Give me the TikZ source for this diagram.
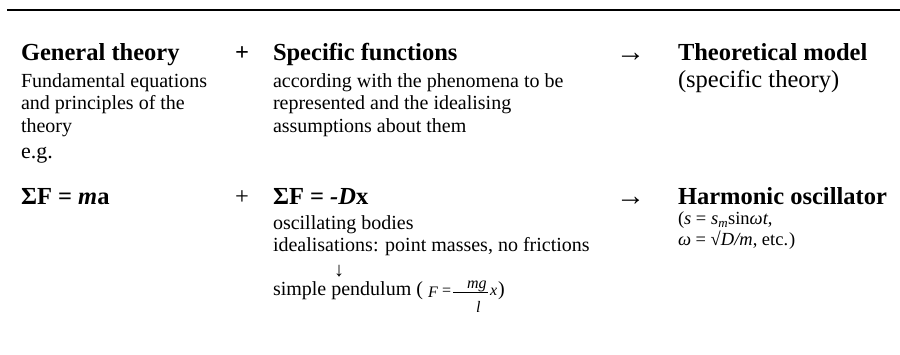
\documentclass[tikz,border=0pt]{standalone}
\usepackage{fontspec}
\setmainfont{Liberation Serif}
\begin{document}
\begin{tikzpicture}[x=1pt,y=-1pt,
  txt/.style={anchor=base west, inner sep=0pt, outer sep=0pt},
  hd/.style={txt, font=\fontsize{24.5}{28}\selectfont\bfseries},
  hdr/.style={txt, font=\fontsize{24.5}{28}\selectfont},
  arr/.style={txt, font=\fontsize{29}{32}\selectfont},
  bd/.style={txt, font=\fontsize{20}{24}\selectfont},
  eg/.style={txt, font=\fontsize{22}{26}\selectfont},
  sm/.style={txt, font=\fontsize{18.5}{21}\selectfont},
  fm/.style={txt, font=\fontsize{16}{18}\selectfont\itshape},
  fmr/.style={txt, font=\fontsize{16}{18}\selectfont},
  rule/.style={line width=2pt},
  fbar/.style={line width=0.8pt}]
\useasboundingbox (0,0) rectangle (900,355);
\coordinate (rl) at (7,10);
\coordinate (rr) at (900,10);
\draw[rule] (rl) -- (rr);
% row 1
\node[hd] (gt) at (21,61) {General theory};
\node[hd] (p1) at (235,61) {+};
\node[hd] (sf) at (273,61) {Specific functions};
\node[arr] (a1) at (616,62) {→};
\node[hd] (tm) at (678,61) {Theoretical model};
\node[hdr] (st) at (678,88) {(specific theory)};
\node[bd] (g1) at (21,88) {Fundamental equations};
\node[bd] (g2) at (21,110) {and principles of the};
\node[bd] (g3) at (21,133) {theory};
\node[eg] (g4) at (21,159) {e.g.};
\node[bd] (f1) at (273,88) {according with the phenomena to be};
\node[bd] (f2) at (273,110) {represented and the idealising};
\node[bd] (f3) at (273,133) {assumptions about them};
% row 2
\node[hd] (ma) at (21,205) {ΣF = \textit{m}a};
\node[hdr] (p2) at (235,205) {+};
\node[hd] (dx) at (273,205) {ΣF = \textit{-D}x};
\node[arr] (a2) at (616,206) {→};
\node[hd] (ho) at (678,205) {Harmonic oscillator};
\node[sm] (s1) at (678,225) {(\textit{s} = \textit{s}\textsubscript{\textit{m}}sin\textit{ωt},};
\node[sm] (s2) at (678,246) {\textit{ω} = √\textit{D/m}, etc.\kern1pt)};
\node[bd] (ob) at (273,230) {oscillating bodies};
\node[bd] (id) at (273,252) {idealisations: point masses, no frictions};
\node[bd, anchor=center] (da) at (339,271) {↓};
\node[bd] (sp) at (273,296) {simple pendulum (};
\node[fm] (fF) at (428,298) {F};
\node[fmr] (fe) at (442,296) {=};
\coordinate (b1) at (453,292);
\coordinate (b2) at (488,292);
\draw[fbar] (b1) -- (b2);
\node[fm] (mg) at (467,289) {mg};
\node[fm] (fl) at (476,313) {l};
\node[fm] (fx) at (490,296) {x};
\node[bd] (fp) at (498,296) {)};
\end{tikzpicture}
\end{document}
